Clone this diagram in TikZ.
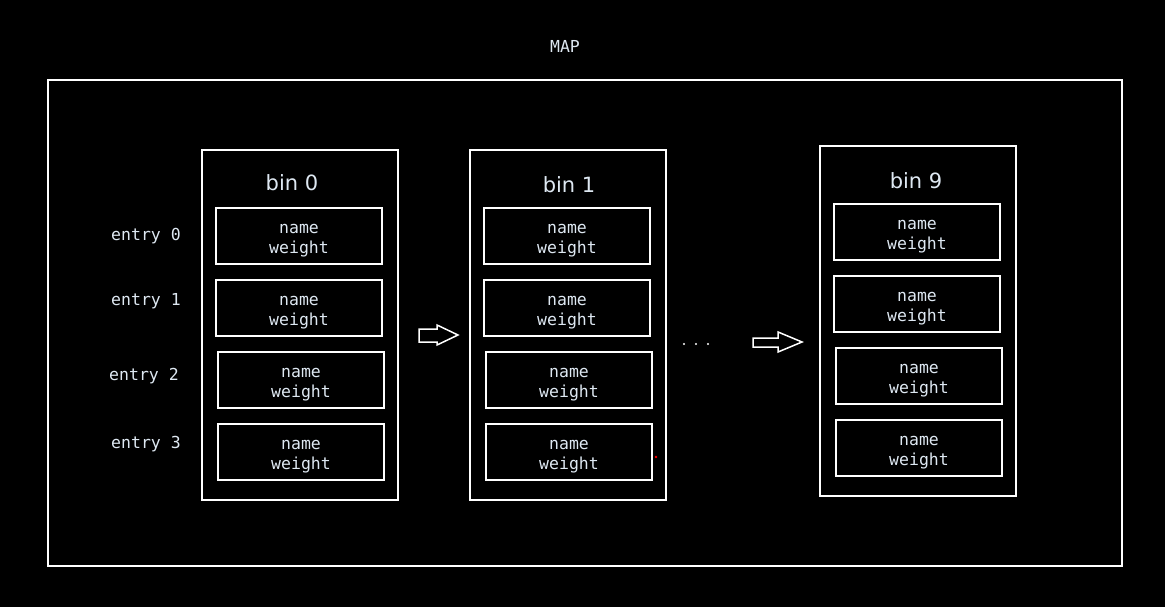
\documentclass[tikz,border=0pt]{standalone}
\usepackage{fontspec}
\setmainfont{DejaVu Sans}
\newfontfamily\codefont{DejaVu Sans Mono}
\usetikzlibrary{positioning}
\definecolor{paletext}{RGB}{222,232,242}

\begin{document}
\begin{tikzpicture}[x=1pt, y=-1pt,
            bin/.style={rectangle, draw=white, line width=1.6pt, minimum width=196pt, minimum height=350pt, inner sep=0pt},
            entry/.style={rectangle, draw=white, line width=1.6pt, minimum width=166pt, minimum height=56pt, align=center, text=paletext, font=\codefont\fontsize{16.5}{20}\selectfont, inner sep=0pt},
            lbl/.style={text=paletext, font=\codefont\fontsize{16.5}{20}\selectfont, inner sep=0pt},
            title/.style={text=paletext, font=\fontsize{21}{24}\selectfont, inner sep=0pt},
            blockarrow/.style={draw=white, line width=1.5pt}
        ]
        \fill[black] (0,0) rectangle (1165,607);
        \useasboundingbox (0,0) rectangle (1165,607);

        \node[lbl] (maplbl) at (565,46) {MAP};
        \node[rectangle, draw=white, line width=1.6pt, minimum width=1074pt, minimum height=486pt] (map) at (585,323) {};

        % bin 0
        \node[bin] (bin0) at (300,325) {};
        \node[title] (t0) at (292,183) {bin 0};
        \node[entry] (b0e0) at (299,236) {\rule{0pt}{18pt}name\\weight};
        \node[entry] (b0e1) at (299,308) {\rule{0pt}{18pt}name\\weight};
        \node[entry] (b0e2) at (301,380) {\rule{0pt}{18pt}name\\weight};
        \node[entry] (b0e3) at (301,452) {\rule{0pt}{18pt}name\\weight};

        \node[lbl] (lbl0) at (146,236) {entry 0};
        \node[lbl] (lbl1) at (146,301) {entry 1};
        \node[lbl] (lbl2) at (144,376) {entry 2};
        \node[lbl] (lbl3) at (146,444) {entry 3};

        % bin 1
        \node[bin] (bin1) at (568,325) {};
        \node[title] (t1) at (569,185) {bin 1};
        \node[entry] (b1e0) at (567,236) {\rule{0pt}{18pt}name\\weight};
        \node[entry] (b1e1) at (567,308) {\rule{0pt}{18pt}name\\weight};
        \node[entry] (b1e2) at (569,380) {\rule{0pt}{18pt}name\\weight};
        \node[entry] (b1e3) at (569,452) {\rule{0pt}{18pt}name\\weight};
        \fill[red] (656,457) circle (1.3);

        % bin 9
        \node[bin] (bin9) at (918,321) {};
        \node[title] (t9) at (916,181) {bin 9};
        \node[entry] (b9e0) at (917,232) {\rule{0pt}{18pt}name\\weight};
        \node[entry] (b9e1) at (917,304) {\rule{0pt}{18pt}name\\weight};
        \node[entry] (b9e2) at (919,376) {\rule{0pt}{18pt}name\\weight};
        \node[entry] (b9e3) at (919,448) {\rule{0pt}{18pt}name\\weight};

        % block arrows and dots
        \draw[blockarrow] (419,329) -- (437,329) -- (437,325) -- (458,335) -- (437,345) -- (437,342) -- (419,342) -- cycle;
        \foreach \x in {684,696,708}
            \fill[white] (\x,344) circle (1.1);
        \draw[blockarrow] (753,338) -- (778,338) -- (778,332) -- (802,342) -- (778,352) -- (778,347) -- (753,347) -- cycle;
\end{tikzpicture}
\end{document}
